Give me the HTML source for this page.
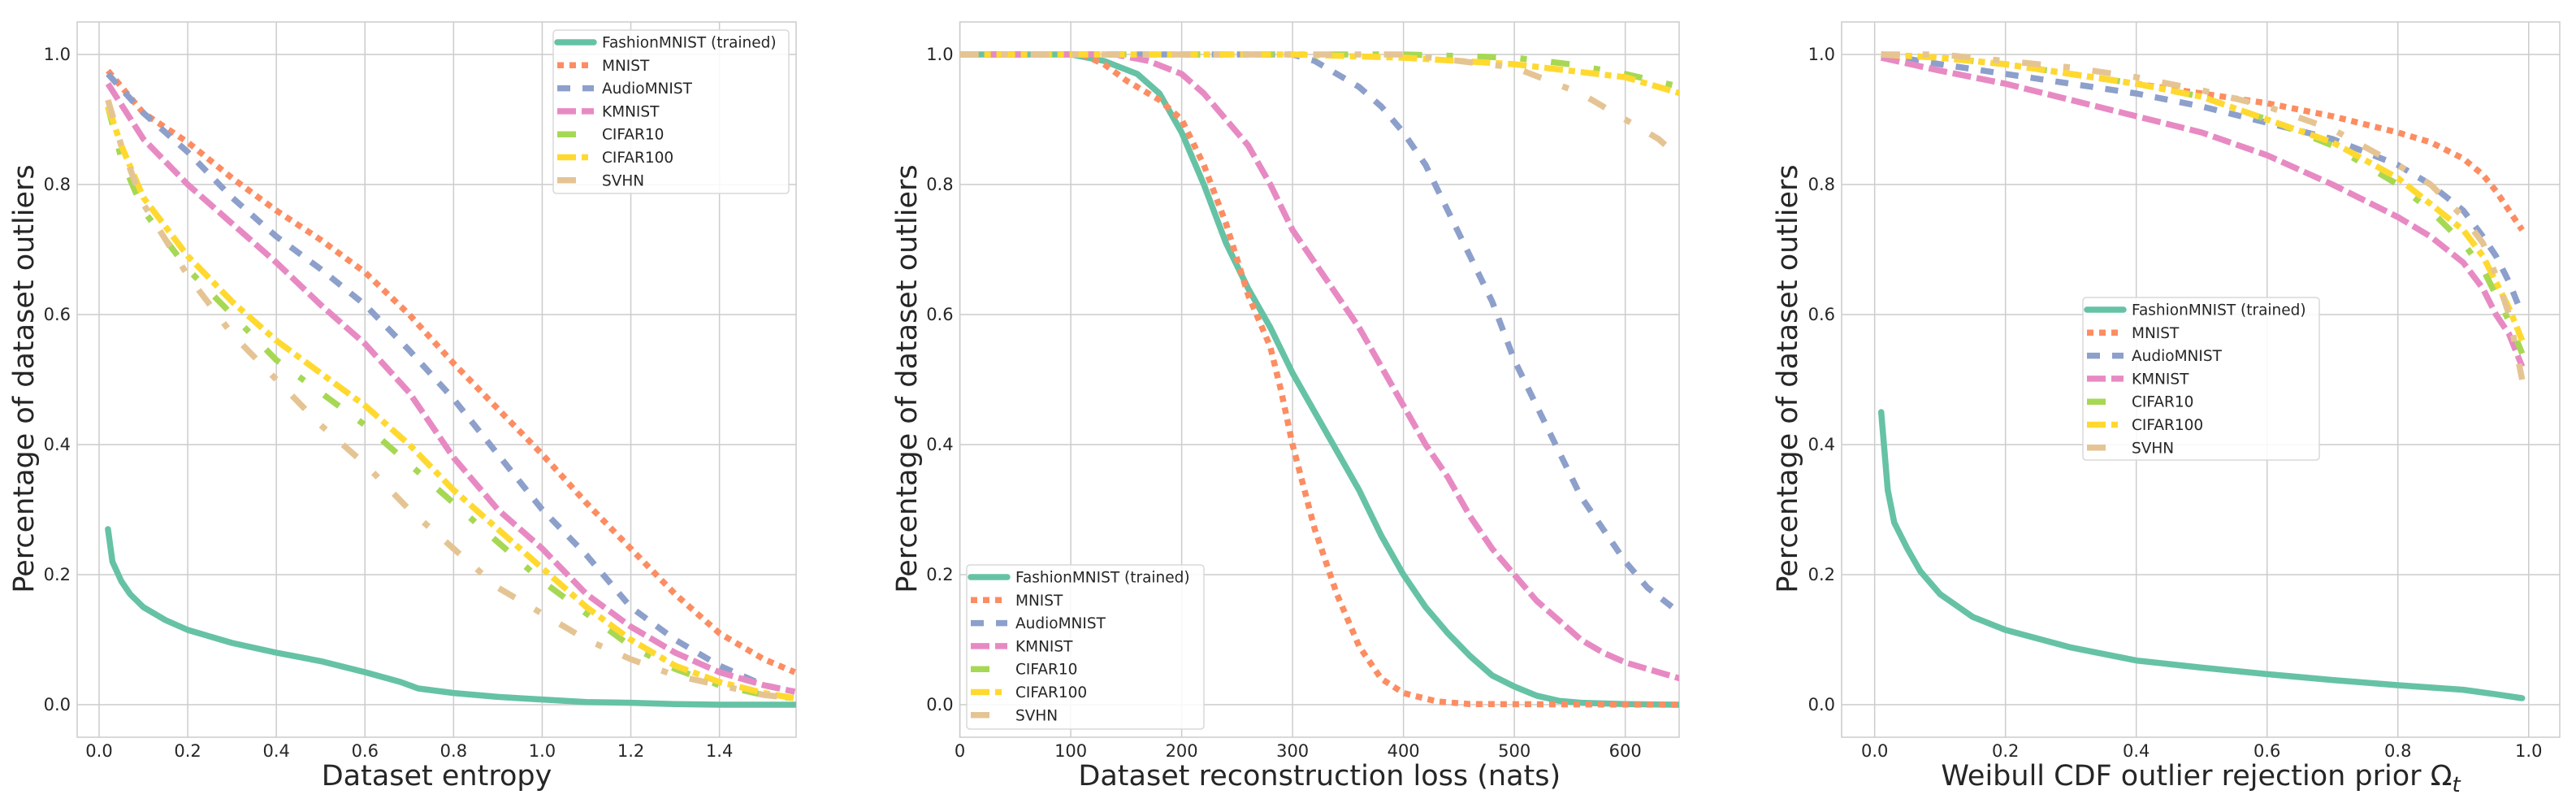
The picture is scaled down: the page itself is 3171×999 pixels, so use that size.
<!DOCTYPE html>
<html><head><meta charset="utf-8"><style>
html,body{margin:0;padding:0;background:#fff}
svg text{font-family:"DejaVu Sans","Liberation Sans",sans-serif;fill:#262626}
</style></head><body>
<svg id="fig" width="3171" height="994" viewBox="0 0 3171 994" xmlns="http://www.w3.org/2000/svg"></svg>
<script>
const seriesNames = ["FashionMNIST (trained)","MNIST","AudioMNIST","KMNIST","CIFAR10","CIFAR100","SVHN"];
const yTicks = [0.0,0.2,0.4,0.6,0.8,1.0];
// Panel 1: entropy
const p1Ticks = [0.0,0.2,0.4,0.6,0.8,1.0,1.2,1.4];
const p1X = [0.02,0.1,0.2,0.3,0.4,0.5,0.6,0.7,0.8,0.9,1.0,1.1,1.2,1.3,1.4,1.5,1.57];
const p1FashionX = [0.02,0.03,0.05,0.07,0.1,0.15,0.2,0.3,0.4,0.5,0.6,0.68,0.72,0.8,0.9,1.0,1.1,1.2,1.3,1.4,1.57];
const p1Fashion = [0.27,0.22,0.19,0.17,0.15,0.13,0.115,0.095,0.08,0.067,0.05,0.035,0.025,0.018,0.012,0.008,0.004,0.003,0.001,0,0];
const p1MNIST = [0.975,0.91,0.865,0.81,0.76,0.715,0.665,0.6,0.525,0.455,0.385,0.31,0.24,0.17,0.11,0.07,0.05];
const p1Audio = [0.97,0.91,0.85,0.78,0.72,0.67,0.615,0.545,0.47,0.385,0.3,0.23,0.15,0.1,0.06,0.03,0.02];
const p1KMNIST = [0.955,0.87,0.80,0.74,0.68,0.615,0.555,0.48,0.38,0.3,0.24,0.17,0.12,0.08,0.05,0.03,0.02];
const p1CX = [0.02,0.05,0.1,0.2,0.3,0.4,0.5,0.6,0.7,0.8,0.9,1.0,1.1,1.2,1.3,1.4,1.5,1.57];
const p1C10 = [0.92,0.84,0.76,0.67,0.6,0.53,0.48,0.43,0.37,0.31,0.25,0.19,0.14,0.09,0.055,0.03,0.015,0.01];
const p1C100 = [0.92,0.86,0.78,0.69,0.62,0.56,0.51,0.46,0.4,0.33,0.27,0.21,0.15,0.1,0.06,0.035,0.018,0.01];
const p1SVHN = [0.93,0.86,0.77,0.66,0.57,0.5,0.43,0.37,0.3,0.24,0.18,0.14,0.1,0.07,0.045,0.03,0.015,0.01];
// Panel 2: reconstruction loss
const p2Ticks = [0,100,200,300,400,500,600];
const p2FashionX = [0,100,130,160,180,200,220,240,260,280,300,320,340,360,380,400,420,440,460,480,500,520,540,560,600,650];
const p2Fashion = [1,1,0.99,0.97,0.94,0.88,0.8,0.71,0.64,0.58,0.51,0.45,0.39,0.33,0.26,0.2,0.15,0.11,0.075,0.045,0.028,0.014,0.006,0.003,0.001,0];
const p2MNISTX = [0,110,130,150,180,200,220,240,260,280,290,300,320,340,360,380,400,430,460,650];
const p2MNIST = [1,1,0.985,0.96,0.93,0.9,0.83,0.74,0.63,0.55,0.48,0.4,0.27,0.17,0.09,0.04,0.018,0.005,0.001,0];
const p2KX = [0,140,170,200,220,240,260,280,300,320,340,360,380,400,420,440,460,480,500,520,540,560,580,600,630,650];
const p2KMNIST = [1,1,0.99,0.97,0.94,0.9,0.86,0.8,0.73,0.68,0.63,0.58,0.52,0.46,0.4,0.35,0.29,0.24,0.2,0.16,0.13,0.1,0.08,0.065,0.05,0.04];
const p2AX = [0,300,320,340,360,380,400,420,440,460,480,500,520,540,560,580,600,620,650];
const p2Audio = [1,1,0.99,0.97,0.95,0.92,0.88,0.83,0.76,0.69,0.62,0.53,0.46,0.39,0.32,0.27,0.22,0.18,0.14];
const p2C10X = [0,400,500,550,600,650];
const p2C10 = [1,1,0.995,0.985,0.97,0.95];
const p2C100X = [0,300,400,500,550,600,650];
const p2C100 = [1,1,0.995,0.985,0.975,0.965,0.94];
const p2SX = [0,400,450,500,530,560,600,630,650];
const p2SVHN = [1,1,0.99,0.98,0.96,0.94,0.9,0.87,0.84];
// Panel 3: Weibull prior
const p3Ticks = [0.0,0.2,0.4,0.6,0.8,1.0];
const p3FashionX = [0.01,0.02,0.03,0.05,0.07,0.1,0.15,0.2,0.3,0.4,0.5,0.6,0.7,0.8,0.9,0.95,0.99];
const p3Fashion = [0.45,0.33,0.28,0.24,0.205,0.17,0.135,0.115,0.088,0.068,0.057,0.047,0.038,0.03,0.023,0.016,0.01];
const p3X = [0.01,0.1,0.2,0.3,0.4,0.5,0.6,0.7,0.8,0.85,0.9,0.93,0.95,0.97,0.99];
const p3MNIST = [1,0.995,0.985,0.97,0.955,0.94,0.925,0.905,0.88,0.865,0.84,0.815,0.79,0.76,0.73];
const p3Audio = [1,0.985,0.97,0.955,0.94,0.92,0.895,0.87,0.83,0.8,0.76,0.72,0.69,0.65,0.6];
const p3KMNIST = [0.995,0.975,0.955,0.93,0.905,0.88,0.845,0.8,0.75,0.72,0.68,0.64,0.6,0.57,0.52];
const p3C10 = [1,0.995,0.985,0.97,0.955,0.935,0.9,0.86,0.8,0.76,0.71,0.67,0.63,0.59,0.54];
const p3C100 = [1,0.995,0.985,0.97,0.955,0.935,0.9,0.865,0.81,0.77,0.73,0.69,0.65,0.61,0.56];
const p3SVHN = [1,1,0.99,0.98,0.965,0.945,0.92,0.885,0.83,0.8,0.75,0.71,0.66,0.6,0.5];

const colors = ["#66c2a5","#fc8d62","#8da0cb","#e78ac3","#a6d854","#ffd92f","#e5c494"];
const dashes = ["","8 7","16 15","23 7","23 30 8 30","23 7 8 7","23 28 8 28"];
const NS = "http://www.w3.org/2000/svg";
const svg = document.getElementById('fig');
function mk(tag, attrs, parent){const e=document.createElementNS(NS,tag);for(const k in attrs)e.setAttribute(k,attrs[k]);(parent||svg).appendChild(e);return e;}

const TOP=27, BOT=907;
function panel(cfg){
  const g = mk('g',{});
  
  
  const sx = v => cfg.left + (v - cfg.xmin)/(cfg.xmax - cfg.xmin)*(cfg.right - cfg.left);
  const sy = v => BOT - (v + 0.05)/1.1*(BOT - TOP);
  const frame = mk('rect',{x:cfg.left,y:TOP,width:cfg.right-cfg.left,height:BOT-TOP,fill:"#fff",stroke:"#cccccc","stroke-width":1.5},g);
  
  
  cfg.xticks.forEach(t=>{
    const l = mk('line',{x1:sx(t),x2:sx(t),y1:TOP,y2:BOT,stroke:"#cccccc","stroke-width":1.5},g);
    
    
    const tx = mk('text',{x:sx(t),y:931,"text-anchor":"middle","font-size":21},g);
    tx.textContent = cfg.fmt(t);
    
    
  });
  yTicks.forEach(t=>{
    const l = mk('line',{x1:cfg.left,x2:cfg.right,y1:sy(t),y2:sy(t),stroke:"#cccccc","stroke-width":1.5},g);
    
    
    const tx = mk('text',{x:cfg.left-8,y:sy(t)+7,"text-anchor":"end","font-size":21},g);
    tx.textContent = t.toFixed(1);
    
    
  });
  const clip = mk('clipPath',{id:cfg.name+'-clip'},g);
  mk('rect',{x:cfg.left,y:TOP,width:cfg.right-cfg.left,height:BOT-TOP},clip);
  cfg.series.forEach((s,i)=>{
    const d = s[1].map((v,j)=>(j?'L':'M')+sx(s[0][j]).toFixed(1)+' '+sy(v).toFixed(1)).join(' ');
    const p = mk('path',{d:d,fill:"none",stroke:colors[i],"stroke-width":7.5,"clip-path":"url(#"+cfg.name+"-clip)","stroke-linejoin":"round","stroke-linecap":i===0?"round":"butt"},g);
    if(dashes[i]) p.setAttribute('stroke-dasharray',dashes[i]);
    
    
  });
  const yl = mk('text',{x:cfg.ylx,y:466,"text-anchor":"middle","font-size":35,transform:"rotate(-90 "+cfg.ylx+" 466)","dominant-baseline":"central"},g);
  yl.textContent = "Percentage of dataset outliers";
  
  
  const xl = mk('text',{x:(cfg.left+cfg.right)/2,y:966,"text-anchor":"middle","font-size":35},g);
  xl.innerHTML = cfg.xlabel;
  
  
  const L = cfg.legend;
  const lg = mk('g',{},g);
  
  
  mk('rect',{x:L.x,y:L.y,width:L.w,height:L.h,rx:4,fill:"#fff","fill-opacity":0.85,stroke:"#d8d8d8","stroke-width":1.5},lg);
  seriesNames.forEach((n,i)=>{
    const yy = L.y + 15 + i*28.3;
    const ls = mk('line',{x1:L.x+5,x2:L.x+50,y1:yy,y2:yy,stroke:colors[i],"stroke-width":7.5,"stroke-linecap":i===0?"round":"butt"},lg);
    if(dashes[i]) ls.setAttribute('stroke-dasharray',dashes[i]);
    
    
    const lt = mk('text',{x:L.x+60,y:yy+6.5,"font-size":18.5},lg);
    lt.textContent = n;
    
    
  });
}
panel({name:"entropy-panel",left:95,right:980,xmin:-0.0495,xmax:1.573,xticks:p1Ticks,fmt:t=>t.toFixed(1),ylx:30,
  xlabel:"Dataset entropy",legend:{x:681,y:37,w:290,h:201},
  series:[[p1FashionX,p1Fashion],[p1X,p1MNIST],[p1X,p1Audio],[p1X,p1KMNIST],[p1CX,p1C10],[p1CX,p1C100],[p1CX,p1SVHN]]});
panel({name:"reconstruction-panel",left:1181.6,right:2067,xmin:0,xmax:648.6,xticks:p2Ticks,fmt:t=>String(t),ylx:1117,
  xlabel:"Dataset reconstruction loss (nats)",legend:{x:1190,y:695,w:292,h:202},
  series:[[p2FashionX,p2Fashion],[p2MNISTX,p2MNIST],[p2AX,p2Audio],[p2KX,p2KMNIST],[p2C10X,p2C10],[p2C100X,p2C100],[p2SX,p2SVHN]]});
panel({name:"weibull-panel",left:2267,right:3151,xmin:-0.0505,xmax:1.0475,xticks:p3Ticks,fmt:t=>t.toFixed(1),ylx:2201,
  xlabel:"Weibull CDF outlier rejection prior Ω<tspan font-style='italic' font-size='26' dy='8'>t</tspan>",legend:{x:2564,y:366,w:291,h:200},
  series:[[p3FashionX,p3Fashion],[p3X,p3MNIST],[p3X,p3Audio],[p3X,p3KMNIST],[p3X,p3C10],[p3X,p3C100],[p3X,p3SVHN]]});
</script>
</body></html>
